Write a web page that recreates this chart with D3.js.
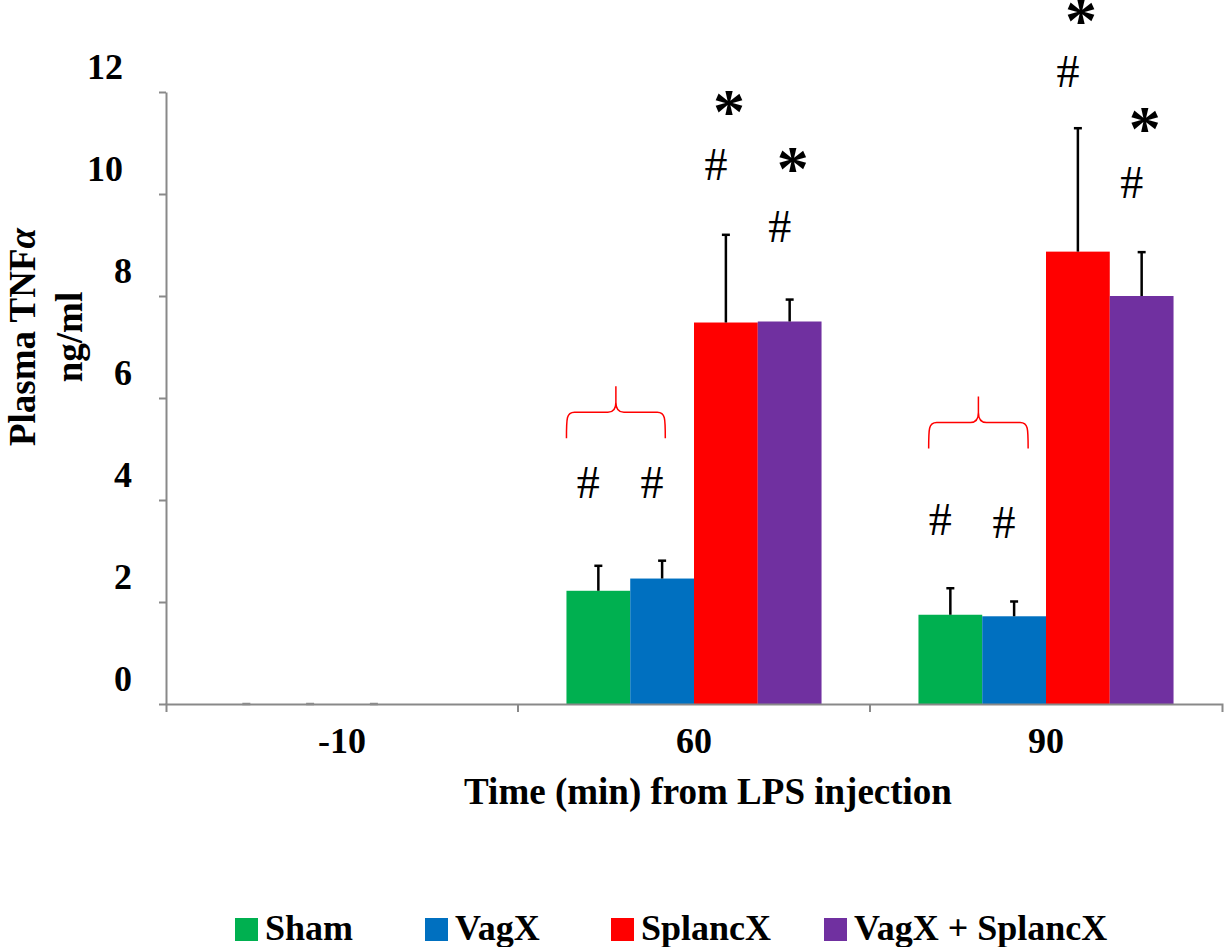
<!DOCTYPE html>
<html>
<head>
<meta charset="utf-8">
<script src="https://cdn.jsdelivr.net/npm/d3@7"></script>
<style>
  html, body { margin: 0; padding: 0; background: #ffffff; }
  svg { display: block; }
  text { font-family: "Liberation Serif", "Times New Roman", serif; }
</style>
</head>
<body>
<script>
// ---------------- data ----------------
const categories = ["-10", "60", "90"];
const series = ["Sham", "VagX", "SplancX", "VagX + SplancX"];
const shamValues     = [0, 2.22, 1.75];
const shamErrors     = [0, 0.49, 0.52];
const vagxValues     = [0, 2.46, 1.72];
const vagxErrors     = [0, 0.35, 0.29];
const splancxValues  = [0, 7.48, 8.87];
const splancxErrors  = [0, 1.72, 2.42];
const comboValues    = [0, 7.50, 8.00];
const comboErrors    = [null, 0.43, 0.86];
const yTickValues    = [0, 2, 4, 6, 8, 10, 12];
const seriesColors   = ["#00B050", "#0070C0", "#FF0000", "#7030A0"];

// significance marks (category, series, symbol, value at glyph centre)
const markCategory = ["60", "60", "60", "60", "60", "60", "90", "90", "90", "90", "90", "90"];
const markSeries   = ["Sham", "VagX", "SplancX", "SplancX", "VagX + SplancX", "VagX + SplancX",
                      "Sham", "VagX", "SplancX", "SplancX", "VagX + SplancX", "VagX + SplancX"];
const markSymbol   = ["#", "#", "#", "*", "#", "*", "#", "#", "#", "*", "#", "*"];
const markValue    = [4.33, 4.33, 10.57, 11.73, 9.35, 10.61, 3.61, 3.55, 12.39, 13.51, 10.22, 11.39];

// red braces over Sham + VagX
const braceCategory = ["60", "90"];
const braceValue    = [5.72, 5.52];

// ---------------- layout ----------------
const W = 1225, H = 947;
const plotLeft = 166, plotRight = 1222, plotTop = 92, plotBottom = 704;
const axisColor = "#898989";

const values = [shamValues, vagxValues, splancxValues, comboValues];
const errors = [shamErrors, vagxErrors, splancxErrors, comboErrors];

const svg = d3.select("body").append("svg").attr("width", W).attr("height", H);

const y = d3.scaleLinear().domain([0, 12]).range([plotBottom, plotTop]);
const x = d3.scaleBand().domain(categories).range([plotLeft, plotRight]).paddingInner(0).paddingOuter(0);
const xs = d3.scaleBand().domain(series).range([0, x.bandwidth()]).paddingInner(0).paddingOuter(0.76);
const color = d3.scaleOrdinal().domain(series).range(seriesColors);

// flatten rows
const rows = [];
categories.forEach((c, ci) => {
  series.forEach((s, si) => {
    rows.push({ cat: c, ser: s, v: values[si][ci], e: errors[si][ci] });
  });
});

// ---------------- bars ----------------
svg.append("g").selectAll("rect").data(rows.filter(d => d.v > 0)).join("rect")
  .attr("x", d => x(d.cat) + xs(d.ser))
  .attr("y", d => y(d.v))
  .attr("width", xs.bandwidth())
  .attr("height", d => y(0) - y(d.v))
  .attr("fill", d => color(d.ser));

// ---------------- axes ----------------
const yAxis = svg.append("g").attr("transform", `translate(${plotLeft},0)`)
  .call(d3.axisLeft(y).tickValues(yTickValues).tickSize(7).tickSizeOuter(0).tickFormat(d3.format("d")));
yAxis.select(".domain").attr("stroke", axisColor).attr("stroke-width", 2);
yAxis.selectAll(".tick line").attr("stroke", axisColor).attr("stroke-width", 2);
yAxis.selectAll(".tick text")
  .attr("x", d => d >= 10 ? -43 : -34).attr("dy", null).attr("y", -14)
  .attr("fill", "#000").style("font-size", "36px").style("font-weight", "bold")
  .style("font-family", "'Liberation Serif', 'Times New Roman', serif");

const xAxis = svg.append("g").attr("transform", `translate(0,${plotBottom})`)
  .call(d3.axisBottom(x).tickSizeInner(0).tickSizeOuter(8));
xAxis.select(".domain").attr("stroke", axisColor).attr("stroke-width", 2);
xAxis.selectAll(".tick text")
  .attr("y", 49).attr("dy", null)
  .attr("fill", "#000").style("font-size", "36px").style("font-weight", "bold")
  .style("font-family", "'Liberation Serif', 'Times New Roman', serif");
// category boundary ticks
xAxis.selectAll("line.boundary").data(categories.slice(1)).join("line")
  .attr("class", "boundary")
  .attr("x1", d => x(d)).attr("x2", d => x(d))
  .attr("y1", 0).attr("y2", 8)
  .attr("stroke", axisColor).attr("stroke-width", 2);

// ---------------- error bars ----------------
const eb = svg.append("g");
const ebRows = rows.filter(d => d.e !== null);
eb.selectAll("line.stem").data(ebRows.filter(d => d.e > 0)).join("line")
  .attr("class", "stem")
  .attr("x1", d => x(d.cat) + xs(d.ser) + xs.bandwidth() / 2)
  .attr("x2", d => x(d.cat) + xs(d.ser) + xs.bandwidth() / 2)
  .attr("y1", d => y(d.v))
  .attr("y2", d => y(d.v + d.e))
  .attr("stroke", "#000").attr("stroke-width", 2.5);
eb.selectAll("line.cap").data(ebRows).join("line")
  .attr("class", "cap")
  .attr("x1", d => x(d.cat) + xs(d.ser) + xs.bandwidth() / 2 - 4)
  .attr("x2", d => x(d.cat) + xs(d.ser) + xs.bandwidth() / 2 + 4)
  .attr("y1", d => y(d.v + d.e))
  .attr("y2", d => y(d.v + d.e))
  .attr("stroke", d => d.e > 0 ? "#000" : "#8c8c8c").attr("stroke-width", 2.5);

// ---------------- significance marks ----------------
const marks = markSymbol.map((s, i) => ({ sym: s, cat: markCategory[i], ser: markSeries[i], v: markValue[i] }));
svg.append("g").selectAll("text").data(marks).join("text")
  .attr("x", d => x(d.cat) + xs(d.ser) + xs.bandwidth() / 2 + (d.sym === "#" ? -10 : 3))
  .attr("y", d => y(d.v) + (d.sym === "#" ? 15 : 27))
  .attr("text-anchor", "middle")
  .style("font-size", d => d.sym === "#" ? "46px" : "64px")
  .style("font-weight", d => d.sym === "#" ? "normal" : "bold")
  .attr("fill", "#000")
  .text(d => d.sym);

// ---------------- braces ----------------
function bracePath(x1, x2, yh) {
  const xm = (x1 + x2) / 2, arm = 26, r = 8;
  return `M${x1},${yh + arm} C${x1},${yh + 6} ${x1},${yh} ${x1 + r},${yh}`
    + ` L${xm - r},${yh} C${xm - 2},${yh} ${xm},${yh - 4} ${xm},${yh - 10} L${xm},${yh - arm}`
    + ` M${xm},${yh - 10} C${xm},${yh - 4} ${xm + 2},${yh} ${xm + r},${yh}`
    + ` L${x2 - r},${yh} C${x2},${yh} ${x2},${yh + 6} ${x2},${yh + arm}`;
}
const braceFrom = [0, 0.16], braceTo = [1.55, 1.72];
svg.append("g").selectAll("path").data(braceCategory).join("path")
  .attr("d", (c, i) => {
    const base = x(c) + xs("Sham");
    return bracePath(base + braceFrom[i] * xs.bandwidth(), base + braceTo[i] * xs.bandwidth(), y(braceValue[i]));
  })
  .attr("fill", "none").attr("stroke", "#FF0000").attr("stroke-width", 1.5);

// ---------------- axis titles ----------------
svg.append("text")
  .attr("x", 708).attr("y", 804)
  .attr("text-anchor", "middle")
  .style("font-size", "37px").style("font-weight", "bold")
  .text("Time (min) from LPS injection");

const yl = svg.append("text")
  .attr("transform", "translate(35,337) rotate(-90)")
  .attr("text-anchor", "middle")
  .style("font-size", "37px").style("font-weight", "bold");
yl.append("tspan").text("Plasma TNF");
yl.append("tspan").style("font-style", "italic").text("α");
svg.append("text")
  .attr("transform", "translate(82,337) rotate(-90)")
  .attr("text-anchor", "middle")
  .style("font-size", "37px").style("font-weight", "bold")
  .text("ng/ml");

// ---------------- legend ----------------
const legendX = [235, 425, 611, 824];
const lg = svg.append("g").selectAll("g").data(series).join("g")
  .attr("transform", (d, i) => `translate(${legendX[i]},918)`);
lg.append("rect").attr("width", 23).attr("height", 23).attr("fill", d => color(d));
lg.append("text").attr("x", 30).attr("y", 22)
  .style("font-size", "36px").style("font-weight", "bold")
  .text(d => d);
</script>
</body>
</html>
